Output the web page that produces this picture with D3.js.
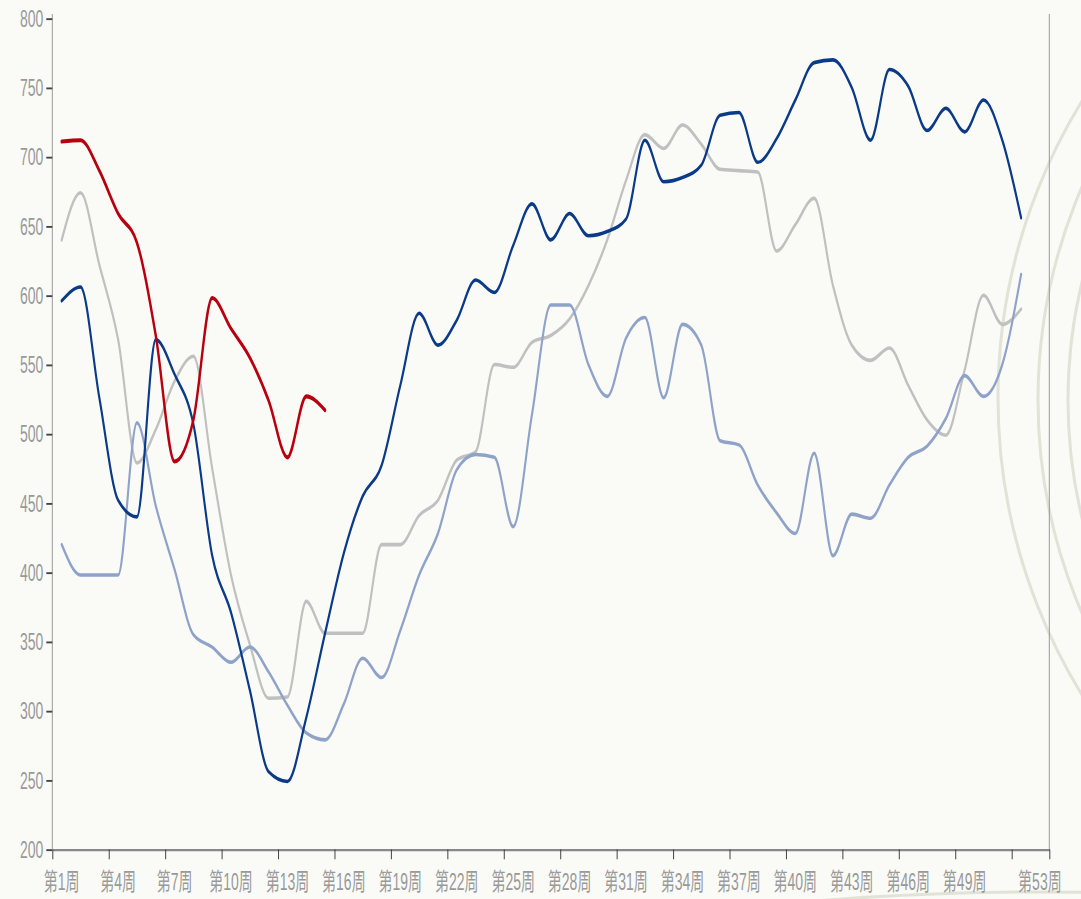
<!DOCTYPE html>
<html><head><meta charset="utf-8">
<script src="https://cdn.jsdelivr.net/npm/d3@7"></script>
<style>html,body{margin:0;padding:0;background:#fafbf7;} svg{display:block}</style>
</head><body>
<svg id="c" width="1081" height="899"></svg>
<script>
// ---- data ----
const weeks = d3.range(1, 53);
const tickWeeks = [1,4,7,10,13,16,19,22,25,28,31,34,37,40,43,46,49,52,54];
const labelWeeks = [1,4,7,10,13,16,19,22,25,28,31,34,37,40,43,46,49,53];
const labelText = labelWeeks.map(w => "第" + w + "周");
const yTicks = [200,250,300,350,400,450,500,550,600,650,700,750,800];

const seriesGray = [640,674,622,568,479,503,538,556,475,398,348,309,310,379,356,356,356,420,420,441,452,481,487,550,548,566,571,583,607,640,683,716,706,723,709,691,690,689,632,651,670,607,564,553,562,535,510,499,546,600,579,590];
const seriesLightBlue = [420,398,398,398,508,448,402,355,346,335,346,328,304,284,279,305,338,324,358,398,428,474,485,483,433,514,593,593,550,527,569,584,526,579,564,495,492,463,443,428,486,412,442,439,463,483,491,511,542,527,550,615];
const seriesDarkBlue = [596,606,526,452,440,568,543,507,412,371,315,256,249,295,356,414,455,477,535,587,564,582,611,602,636,666,640,659,643,646,655,712,682,685,694,730,732,696,713,741,768,770,750,712,763,751,719,735,718,741,712,656];
const seriesRed = [711,712,690,659,638,571,480,510,598,576,555,524,483,527,517];

const colors = {gray:"#c0c0c0", light:"#8fa3c9", dark:"#0b3a88", red:"#b8000f"};

// ---- drawing ----
const W = 1081, H = 899, K = 1.7;
const svg = d3.select('#c');
svg.append('rect').attr('width', W).attr('height', H).attr('fill', '#fafbf7');

// decorative arcs
const deco = svg.append('g').attr('fill','none').attr('stroke','#e1e3d7').attr('stroke-width',3);
[[1564,398,566],[1577,400,539],[1570,400,502],[1040,3692,2800]].forEach(c=>{
  deco.append('circle').attr('cx',c[0]).attr('cy',c[1]).attr('r',c[2]);
});

const g = svg.append('g').attr('transform', `scale(1,${K})`);
const x = d3.scaleLinear().domain([1, 54]).range([52.3, 1049.3]);
const y = d3.scaleLinear().domain([200, 800]).range([849.3/K, 18.3/K]);

// right frame line
g.append('line').attr('x1', x(54)).attr('x2', x(54)).attr('y1', 14/K).attr('y2', y(200))
  .attr('stroke', '#999').attr('stroke-width', 1).attr('vector-effect','non-scaling-stroke');
// left axis line
g.append('line').attr('x1', x(1)).attr('x2', x(1)).attr('y1', 14/K).attr('y2', y(200))
  .attr('stroke', '#999').attr('stroke-width', 1).attr('vector-effect','non-scaling-stroke');

const fontFam = "'Liberation Sans', Arial, 'Noto Sans CJK SC', sans-serif";

// y axis
const yAxis = g.append('g').attr('transform', `translate(${x(1)},0)`)
  .call(d3.axisLeft(y).tickValues(yTicks).tickSize(6).tickPadding(3).tickSizeOuter(0));
yAxis.select('.domain').remove();
yAxis.selectAll('.tick line').attr('stroke', '#444').attr('stroke-width', 1.1);
yAxis.selectAll('.tick text').attr('fill', '#999').attr('font-size', 14).attr('font-family', fontFam);

// x axis
const xAxis = g.append('g').attr('transform', `translate(0,${y(200)})`)
  .call(d3.axisBottom(x).tickValues(tickWeeks).tickSize(10/K).tickFormat('').tickSizeOuter(0));
xAxis.select('.domain').attr('stroke', '#888').attr('stroke-width', 1.4);
xAxis.selectAll('.tick line').attr('stroke', '#444').attr('vector-effect','non-scaling-stroke');

g.append('g').selectAll('text').data(labelWeeks).join('text')
  .attr('x', d => x(d + 0.5)).attr('y', 890/K)
  .attr('text-anchor', 'middle').attr('fill', '#999').attr('font-size', 14)
  .attr('font-family', fontFam)
  .text((d, i) => labelText[i]);

// lines
const line = d3.line().x(d => x(d.w + 0.5)).y(d => y(d.v)).curve(d3.curveMonotoneX);
const mk = arr => arr.map((v, i) => ({w: weeks[i], v}));
[[seriesGray, colors.gray, 2.1], [seriesLightBlue, colors.light, 2.1], [seriesDarkBlue, colors.dark, 2.1], [seriesRed, colors.red, 2.4]]
  .forEach(([s, c, sw]) => {
    g.append('path').attr('d', line(mk(s))).attr('fill', 'none').attr('stroke', c)
      .attr('stroke-width', sw).attr('stroke-linejoin','round').attr('stroke-linecap','round');
  });
</script>
</body></html>
